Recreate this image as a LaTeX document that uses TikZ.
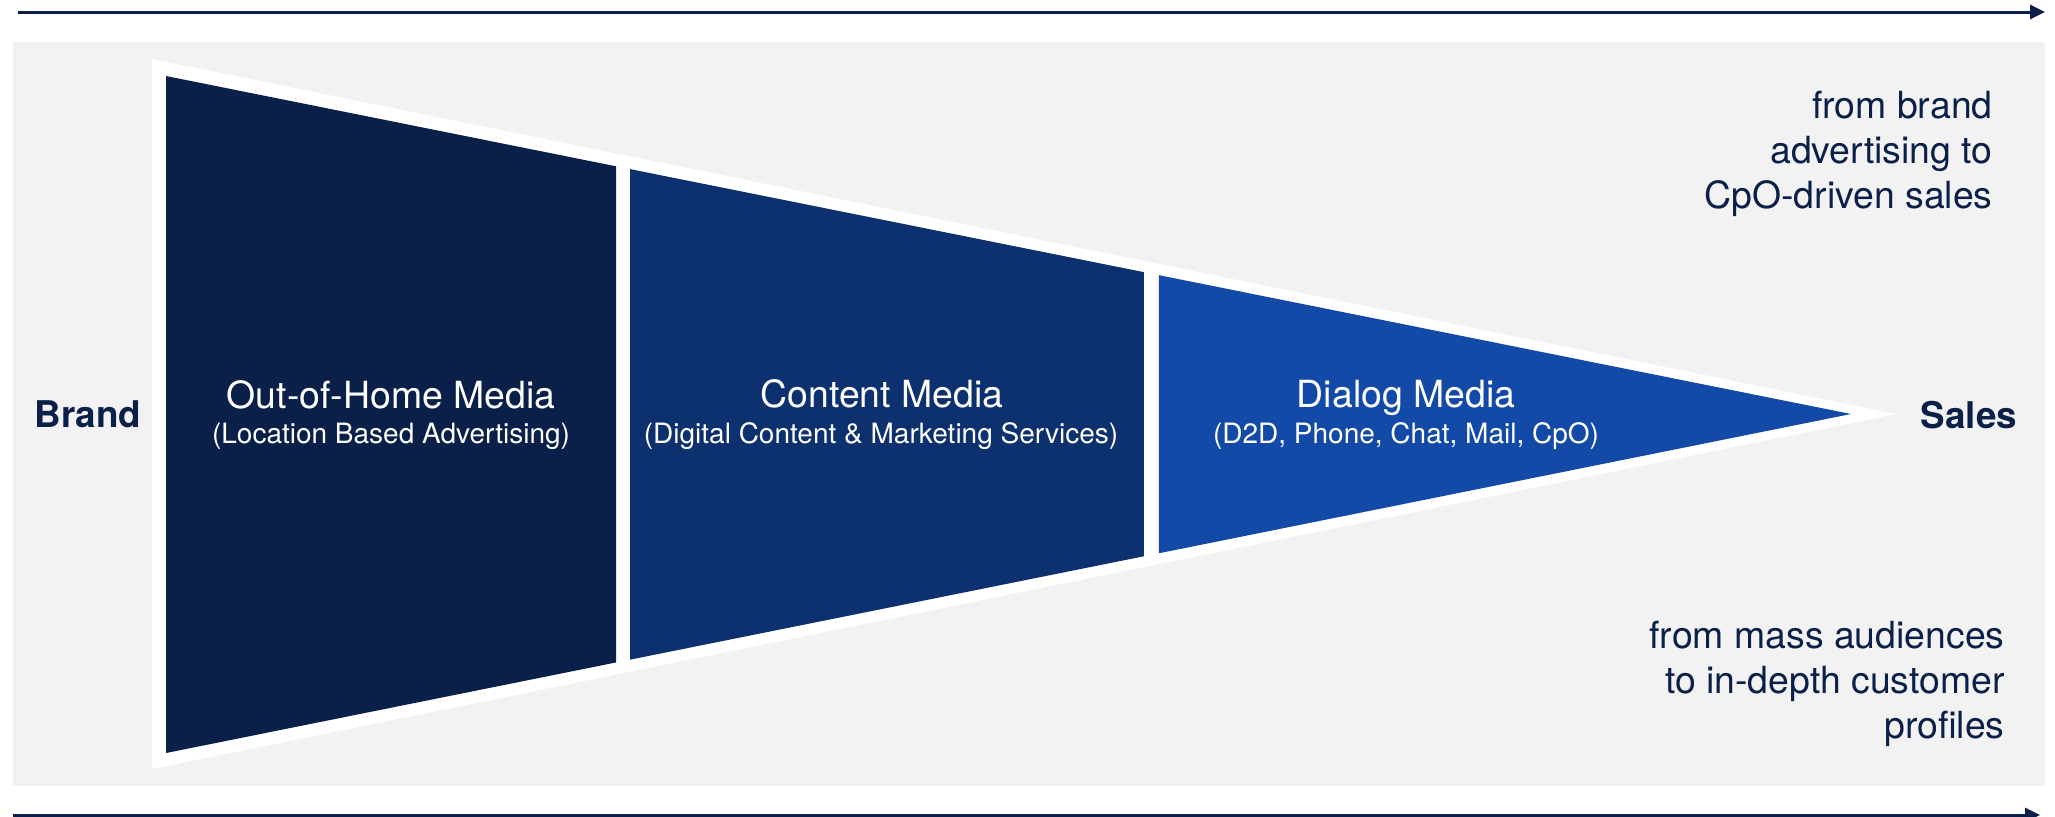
\documentclass[tikz,border=0pt]{standalone}
\usepackage{fontspec}
\setmainfont{TeX Gyre Heros}
\usetikzlibrary{calc,arrows.meta}
\definecolor{navy}{HTML}{0B2049}
\definecolor{segA}{HTML}{0B2049}
\definecolor{segB}{HTML}{0D306E}
\definecolor{segC}{HTML}{134AA8}
\definecolor{bggray}{HTML}{F2F2F2}
\begin{document}
\begin{tikzpicture}[x=0.5pt,y=-0.5pt,
  flowarrow/.style={draw=navy, line width=1.5pt, -{Triangle[length=7.5pt,width=7pt]}},
  segtitle/.style={text=white, inner sep=0pt, anchor=base, font=\fontsize{18.7}{22}\selectfont},
  segsub/.style={text=white, inner sep=0pt, anchor=base, font=\fontsize{14}{17}\selectfont},
  endlabel/.style={text=navy, inner sep=0pt, anchor=base, font=\fontsize{18.4}{22}\selectfont\bfseries},
  sidetext/.style={text=navy, inner sep=0pt, anchor=base east, align=right, font=\fontsize{18.7}{22.3}\selectfont}]
\useasboundingbox (0,0) rectangle (2055,816);
% background
\fill[bggray] (13,42) rectangle (2045,786);
% arrows
\coordinate (ta) at (18,12);
\coordinate (tb) at (2045,12);
\coordinate (ba) at (13,815);
\coordinate (bb) at (2040,815);
\draw[flowarrow] (ta) -- (tb);
\draw[flowarrow] (ba) -- (bb);
% white funnel
\fill[white] (152,59) -- (1896,414) -- (152,769) -- cycle;
% inner triangle reference points
\coordinate (A) at (166,76);
\coordinate (B) at (166,753);
\coordinate (T) at (1851,414);
\fill[segA] (A) -- ($(A)!0.2671!(T)$) -- ($(B)!0.2671!(T)$) -- (B) -- cycle;
\fill[segB] ($(A)!0.2754!(T)$) -- ($(A)!0.5804!(T)$) -- ($(B)!0.5804!(T)$) -- ($(B)!0.2754!(T)$) -- cycle;
\fill[segC] ($(A)!0.5893!(T)$) -- (T) -- ($(B)!0.5893!(T)$) -- cycle;
% segment labels
\node[segtitle] (t1) at (391,408) {Out-of-Home Media};
\node[segsub] (s1) at (391,443) {(Location Based Advertising)};
\node[segtitle] (t2) at (882,407) {Content Media};
\node[segsub] (s2) at (881,443) {(Digital Content \& Marketing Services)};
\node[segtitle] (t3) at (1406,407) {Dialog Media};
\node[segsub] (s3) at (1406,443) {(D2D, Phone, Chat, Mail, CpO)};
% ends
\node[endlabel] (brand) at (88,427) {Brand};
\node[endlabel] (sales) at (1969,428) {Sales};
% side texts (anchored at the baseline of the last line)
\node[sidetext] (top) at (1993,208) {from brand\\advertising to\\CpO-driven sales};
\node[sidetext] (bot) at (2005,738) {from mass audiences\\to in-depth customer\\profiles};
\end{tikzpicture}
\end{document}
